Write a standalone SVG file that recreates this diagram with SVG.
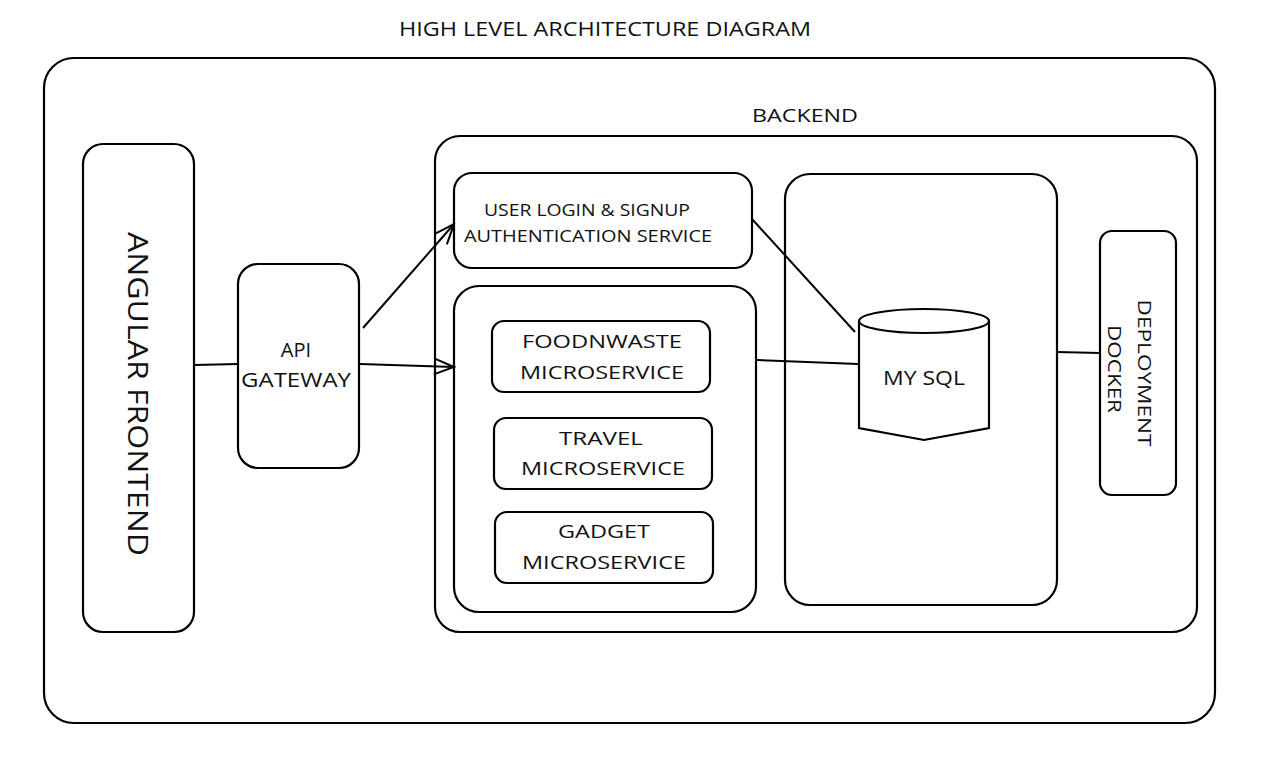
<svg xmlns="http://www.w3.org/2000/svg" width="1266" height="770" viewBox="0 0 1266 770">
<style>
.b{fill:none;stroke:#000;stroke-width:2.2}
.t{font-family:"Open Sans","Lato","Liberation Sans",sans-serif;fill:#111;text-anchor:middle}
.c{fill:none;stroke:#000;stroke-width:2}
</style>
<defs>
<marker id="ah" markerWidth="24" markerHeight="20" refX="22" refY="10" orient="auto" markerUnits="userSpaceOnUse">
<path d="M2,2 L22,10 L2,18" fill="none" stroke="#000" stroke-width="2"/>
</marker>
</defs>
<rect width="1266" height="770" fill="#fff"/>
<text class="t" x="605" y="36" font-size="20" textLength="412" lengthAdjust="spacingAndGlyphs">HIGH LEVEL ARCHITECTURE DIAGRAM</text>
<g id="outer"><rect class="b" x="44" y="58" width="1171" height="665" rx="30"/></g>
<g id="backend">
<rect class="b" x="435" y="136" width="762" height="496" rx="25"/>
<text class="t" x="805" y="122" font-size="19" textLength="106" lengthAdjust="spacingAndGlyphs">BACKEND</text>
</g>
<g id="frontend">
<rect class="b" x="83" y="144" width="111" height="488" rx="20"/>
<text class="t" font-size="27" transform="translate(128,394) rotate(90)" textLength="324" lengthAdjust="spacingAndGlyphs">ANGULAR FRONTEND</text>
</g>
<g id="gateway">
<rect class="b" x="238" y="264" width="121" height="204" rx="20"/>
<text class="t" x="296" y="357" font-size="20">API</text>
<text class="t" x="296" y="387" font-size="20" textLength="110" lengthAdjust="spacingAndGlyphs">GATEWAY</text>
</g>
<g id="auth">
<rect class="b" x="454" y="173" width="298" height="95" rx="18"/>
<text class="t" x="587" y="216" font-size="17" textLength="206" lengthAdjust="spacingAndGlyphs">USER LOGIN &amp; SIGNUP</text>
<text class="t" x="588" y="242" font-size="17" textLength="248" lengthAdjust="spacingAndGlyphs">AUTHENTICATION SERVICE</text>
</g>
<g id="microservices">
<rect class="b" x="454" y="286" width="302" height="326" rx="25"/>
</g>
<g id="foodnwaste">
<rect class="b" x="492" y="321" width="218" height="71" rx="12"/>
<text class="t" x="602" y="348" font-size="19" textLength="160" lengthAdjust="spacingAndGlyphs">FOODNWASTE</text>
<text class="t" x="602" y="379" font-size="19" textLength="164" lengthAdjust="spacingAndGlyphs">MICROSERVICE</text>
</g>
<g id="travel">
<rect class="b" x="494" y="418" width="218" height="71" rx="12"/>
<text class="t" x="601" y="445" font-size="19" textLength="84" lengthAdjust="spacingAndGlyphs">TRAVEL</text>
<text class="t" x="603" y="475" font-size="19" textLength="164" lengthAdjust="spacingAndGlyphs">MICROSERVICE</text>
</g>
<g id="gadget">
<rect class="b" x="495" y="512" width="218" height="71" rx="12"/>
<text class="t" x="604" y="538" font-size="19" textLength="92" lengthAdjust="spacingAndGlyphs">GADGET</text>
<text class="t" x="604" y="569" font-size="19" textLength="164" lengthAdjust="spacingAndGlyphs">MICROSERVICE</text>
</g>
<g id="dbcontainer">
<rect class="b" x="785" y="174" width="272" height="431" rx="25"/>
</g>
<g id="mysql">
<ellipse class="b" cx="924" cy="321" rx="65" ry="12"/>
<path class="b" d="M859,321 L859,428 Q891,434 924,440 Q956,434 989,428 L989,321"/>
<text class="t" x="924" y="385" font-size="20" textLength="82" lengthAdjust="spacingAndGlyphs">MY SQL</text>
</g>
<g id="docker">
<rect class="b" x="1100" y="231" width="76" height="264" rx="12"/>
<text class="t" font-size="18" transform="translate(1138,373) rotate(90)"><tspan x="0" y="0" textLength="147" lengthAdjust="spacingAndGlyphs">DEPLOYMENT</tspan><tspan x="-4" y="30" textLength="88" lengthAdjust="spacingAndGlyphs">DOCKER</tspan></text>
</g>
<g id="connectors">
<line class="c" x1="194" y1="365" x2="238" y2="364"/>
<line class="c" x1="363" y1="328" x2="454" y2="224" marker-end="url(#ah)"/>
<line class="c" x1="360" y1="364" x2="454" y2="367" marker-end="url(#ah)"/>
<line class="c" x1="752" y1="219" x2="855" y2="332"/>
<line class="c" x1="757" y1="360" x2="858" y2="364"/>
<line class="c" x1="1057" y1="352" x2="1100" y2="353"/>
</g>
</svg>
